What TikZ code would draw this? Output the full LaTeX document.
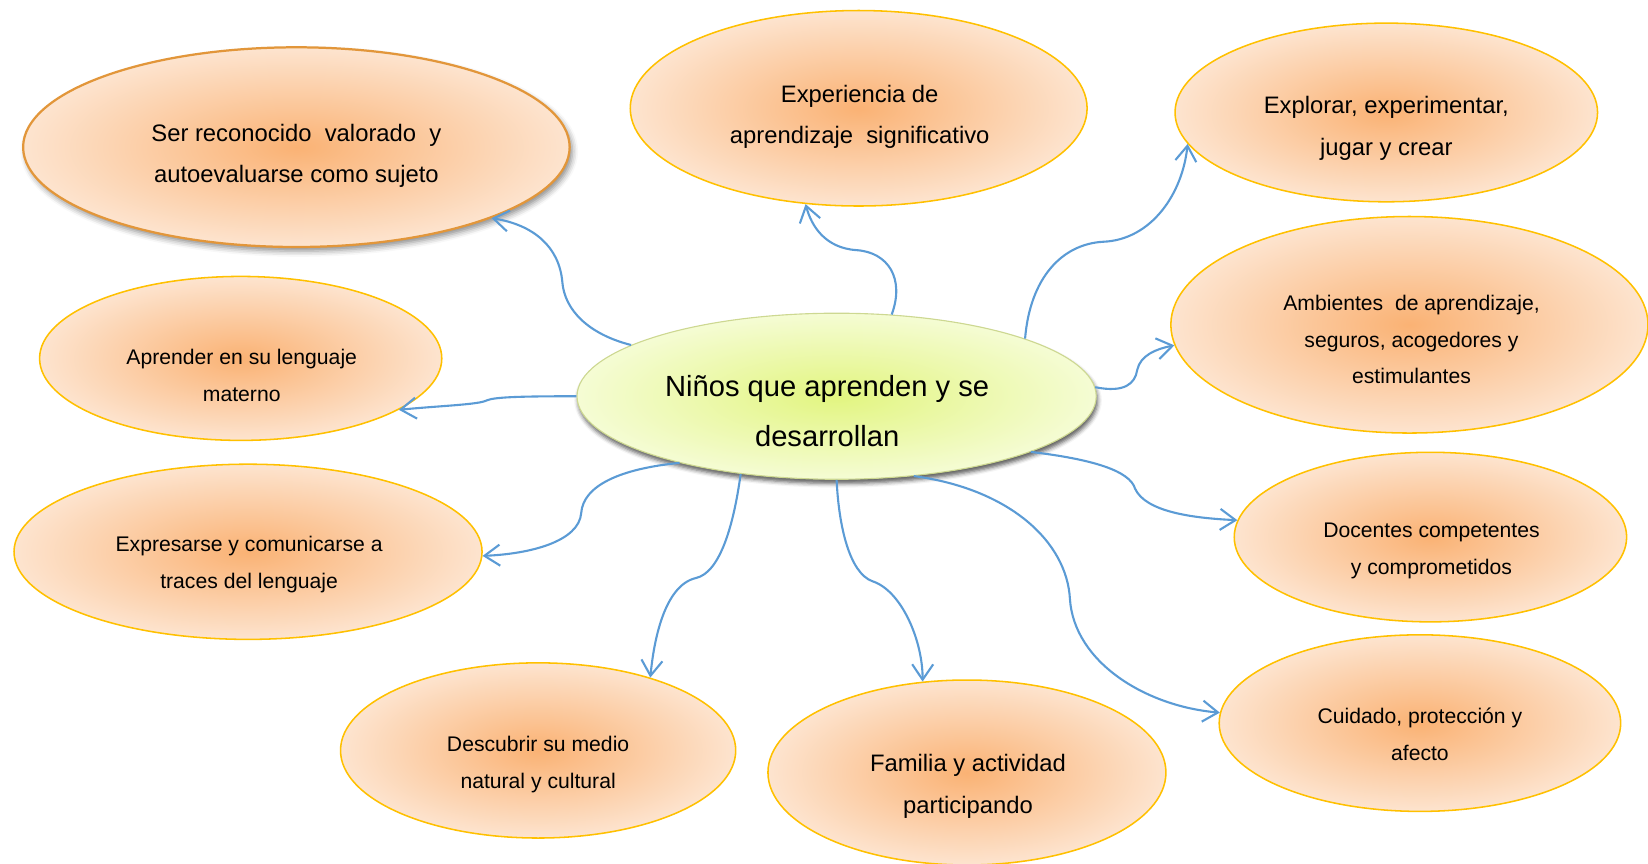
\documentclass[tikz,border=0pt]{standalone}
\usepackage{fontspec}
\setmainfont{Liberation Sans}
\usetikzlibrary{shapes.geometric,arrows.meta,shadows.blur}

\tikzset{every picture/.style={line width=0.75pt}}
\tikzset{
  bubble/.style={shape=ellipse, draw={rgb, 255:red, 255; green, 192; blue, 0 }, line width=1.1pt, inner sep=0pt, inner color={rgb, 255:red, 250; green, 178; blue, 116 }, outer color={rgb, 255:red, 253; green, 228; blue, 207 }},
  centerbubble/.style={shape=ellipse, draw={rgb, 255:red, 205; green, 216; blue, 145 }, line width=0.8pt, inner sep=0pt, inner color={rgb, 255:red, 226; green, 245; blue, 128 }, outer color={rgb, 255:red, 245; green, 252; blue, 212 }, blur shadow={shadow xshift=1pt, shadow yshift=-3pt, shadow blur radius=3pt, shadow opacity=65}},
  bigtext/.style={align=center, font=\fontsize{17}{29.5}\selectfont},
  smalltext/.style={align=center, font=\fontsize{15.1}{26.3}\selectfont},
  conn/.style={draw={rgb, 255:red, 91; green, 155; blue, 213 }, line width=1.5pt, -{Straight Barb[length=11pt,width=15pt]}},
}

\begin{document}
\begin{tikzpicture}[x=0.75pt,y=0.75pt,yscale=-1,xscale=1]
	\useasboundingbox (0,0) rectangle (1568,822);

	%Shape: Ellipse (centre)
	\node[centerbubble, minimum width=370.5pt, minimum height=118.5pt] (nino) at (796,377) {};

	%Shape: Ellipse
	\node[bubble, minimum width=390pt, minimum height=142.5pt, draw={rgb, 255:red, 226; green, 150; blue, 58 }, line width=1.6pt, blur shadow={shadow xshift=2pt, shadow yshift=-3pt, shadow blur radius=4pt, shadow opacity=45}] (ser) at (282,140) {};
	%Shape: Ellipse
	\node[bubble, minimum width=326pt, minimum height=139.5pt] (exper) at (817,103) {};
	%Shape: Ellipse
	\node[bubble, minimum width=301.5pt, minimum height=127.5pt] (explo) at (1319,107) {};
	%Shape: Ellipse
	\node[bubble, minimum width=340.5pt, minimum height=154.5pt] (amb) at (1341,309) {};
	%Shape: Ellipse
	\node[bubble, minimum width=287pt, minimum height=117pt] (apren) at (229,341) {};
	%Shape: Ellipse
	\node[bubble, minimum width=334pt, minimum height=125pt] (expre) at (236,525) {};
	%Shape: Ellipse
	\node[bubble, minimum width=280pt, minimum height=121pt] (doc) at (1361,511) {};
	%Shape: Ellipse
	\node[bubble, minimum width=282pt, minimum height=125pt] (desc) at (512,714) {};
	%Shape: Ellipse
	\node[bubble, minimum width=284pt, minimum height=132pt] (fam) at (920,735) {};
	%Shape: Ellipse
	\node[bubble, minimum width=286.5pt, minimum height=126pt] (cuid) at (1351,688) {};

	% Text Node
	\node[font=\fontsize{20.8}{36}\selectfont, align=center] (ninotext) at (787,391) {Niños que aprenden y se\\desarrollan};
	% Text Node
	\node[bigtext] (sertext) at (282,148) {Ser reconocido\ \ valorado\ \ y\\autoevaluarse como sujeto};
	% Text Node
	\node[bigtext] (expertext) at (818,111) {Experiencia de\\aprendizaje\ \ significativo};
	% Text Node
	\node[bigtext] (explotext) at (1319,122) {Explorar, experimentar,\\jugar y crear};
	% Text Node
	\node[smalltext] (ambtext) at (1343,323) {Ambientes\ \ de aprendizaje,\\seguros, acogedores y\\estimulantes};
	% Text Node
	\node[smalltext] (aprentext) at (230,357) {Aprender en su lenguaje\\materno};
	% Text Node
	\node[smalltext] (expretext) at (237,537) {Expresarse y comunicarse a\\traces del lenguaje};
	% Text Node
	\node[smalltext] (doctext) at (1362,524) {Docentes competentes\\y comprometidos};
	% Text Node
	\node[smalltext] (desctext) at (512,727) {Descubrir su medio\\natural y cultural};
	% Text Node
	\node[bigtext] (famtext) at (921,748) {Familia y actividad\\participando};
	% Text Node
	\node[smalltext] (cuidtext) at (1351,699) {Cuidado, protección y\\afecto};

	%Curve Lines
	\draw[conn] (nino.166) .. controls (560,318) and (537,295) .. (535,268) .. controls (532,235) and (508,214) .. (ser.-20);
	%Curve Lines
	\draw[conn] (nino.56) .. controls (861,265) and (845,240) .. (815,238) .. controls (785,236) and (772,215) .. (exper.241);
	%Curve Lines
	\draw[conn] (nino.17) .. controls (980,265) and (1010,232) .. (1050,230) .. controls (1095,228) and (1125,185) .. (explo.189);
	%Curve Lines
	\draw[conn] (nino.2) .. controls (1070,374) and (1080,365) .. (1082,352) .. controls (1085,338) and (1100,332) .. (amb.185);
	%Curve Lines
	\draw[conn] (nino.180) .. controls (490,377) and (470,378) .. (463,381) .. controls (455,385) and (420,386) .. (apren.-18);
	%Curve Lines
	\draw[conn] (nino.203) .. controls (590,446) and (555,462) .. (553,488) .. controls (551,515) and (505,527) .. (expre.-1);
	%Curve Lines
	\draw[conn] (nino.219) .. controls (698,500) and (685,545) .. (662,550) .. controls (632,557) and (622,610) .. (desc.33);
	%Curve Lines
	\draw[conn] (nino.270) .. controls (798,500) and (808,545) .. (830,553) .. controls (858,562) and (878,610) .. (fam.116);
	%Curve Lines
	\draw[conn] (nino.-46) .. controls (960,465) and (1015,515) .. (1018,570) .. controls (1022,630) and (1090,672) .. (cuid.177);
	%Curve Lines
	\draw[conn] (nino.-16) .. controls (1040,437) and (1075,448) .. (1080,465) .. controls (1090,487) and (1135,493) .. (doc.175);

\end{tikzpicture}
\end{document}
